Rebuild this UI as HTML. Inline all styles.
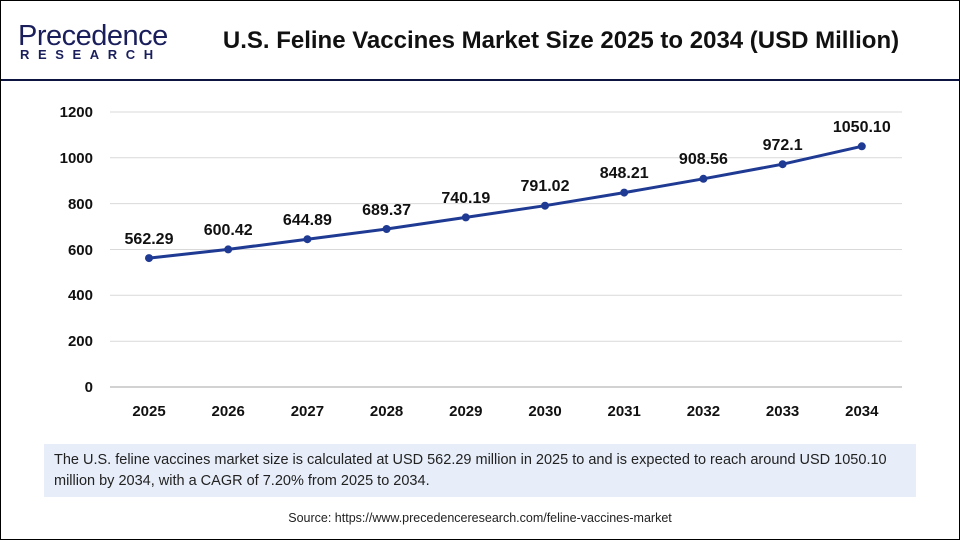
<!DOCTYPE html>
<html><head><style>
body{margin:0;width:960px;height:540px;overflow:hidden;background:#fff;font-family:"Liberation Sans",Arial,sans-serif}
.frame{position:absolute;left:0;top:0;width:958px;height:538px;border:1px solid #000}
.hr{position:absolute;left:1px;top:79px;width:958px;height:2px;background:#0d1440}
.title{position:absolute;left:150px;top:27px;width:822px;text-align:center;font-size:24px;font-weight:bold;color:#111;letter-spacing:0px}
.logo1{position:absolute;left:18px;top:20px;font-size:29px;color:#1a1f5c;letter-spacing:-0.5px}
.logo2{position:absolute;left:20px;top:47px;font-size:13px;color:#1a1f5c;letter-spacing:8.6px;font-weight:bold}
.box{position:absolute;left:44px;top:444px;width:872px;height:53px;background:#e7eef9}
.box p{margin:6px 0 0 10px;width:840px;font-size:14.5px;line-height:21px;color:#222}
.src{position:absolute;left:0;width:960px;top:511px;text-align:center;font-size:12.5px;color:#222}
</style></head><body>
<div class="frame"></div>
<div class="logo1">Precedence</div>
<div class="logo2">RESEARCH</div>
<div class="hr"></div>
<div class="title">U.S. Feline Vaccines Market Size 2025 to 2034 (USD Million)</div>
<svg width="960" height="540" style="position:absolute;left:0;top:0" font-family="Liberation Sans, Arial, sans-serif">
<g stroke="#d9d9d9" stroke-width="1">
<line x1="110" x2="902" y1="112" y2="112"/><line x1="110" x2="902" y1="157.8" y2="157.8"/>
<line x1="110" x2="902" y1="203.6" y2="203.6"/><line x1="110" x2="902" y1="249.5" y2="249.5"/>
<line x1="110" x2="902" y1="295.3" y2="295.3"/><line x1="110" x2="902" y1="341.2" y2="341.2"/>
</g>
<line x1="110" x2="902" y1="387" y2="387" stroke="#a6a6a6"/>
<g font-size="15" font-weight="bold" fill="#111" text-anchor="end">
<text x="93" y="117">1200</text><text x="93" y="163">1000</text><text x="93" y="209">800</text>
<text x="93" y="255">600</text><text x="93" y="300">400</text><text x="93" y="346">200</text><text x="93" y="392">0</text>
</g>
<g font-size="15" font-weight="bold" fill="#111" text-anchor="middle">
<text x="149" y="416">2025</text><text x="228.2" y="416">2026</text><text x="307.4" y="416">2027</text>
<text x="386.6" y="416">2028</text><text x="465.8" y="416">2029</text><text x="545" y="416">2030</text>
<text x="624.2" y="416">2031</text><text x="703.4" y="416">2032</text><text x="782.6" y="416">2033</text><text x="861.8" y="416">2034</text>
</g>
<polyline fill="none" stroke="#1f3a93" stroke-width="3" points="149,258.1 228.2,249.4 307.4,239.2 386.6,229 465.8,217.4 545,205.7 624.2,192.6 703.4,178.8 782.6,164.2 861.8,146.3"/>
<g fill="#1f3a93">
<circle cx="149" cy="258.1" r="4"/><circle cx="228.2" cy="249.4" r="4"/><circle cx="307.4" cy="239.2" r="4"/>
<circle cx="386.6" cy="229" r="4"/><circle cx="465.8" cy="217.4" r="4"/><circle cx="545" cy="205.7" r="4"/>
<circle cx="624.2" cy="192.6" r="4"/><circle cx="703.4" cy="178.8" r="4"/><circle cx="782.6" cy="164.2" r="4"/><circle cx="861.8" cy="146.3" r="4"/>
</g>
<g font-size="16" font-weight="bold" fill="#111" text-anchor="middle">
<text x="149" y="244">562.29</text><text x="228.2" y="235">600.42</text><text x="307.4" y="225">644.89</text>
<text x="386.6" y="215">689.37</text><text x="465.8" y="203">740.19</text><text x="545" y="191">791.02</text>
<text x="624.2" y="178">848.21</text><text x="703.4" y="164">908.56</text><text x="782.6" y="150">972.1</text><text x="861.8" y="132">1050.10</text>
</g>
</svg>
<div class="box"><p>The U.S. feline vaccines market size is calculated at USD 562.29 million in 2025 to and is expected to reach around USD 1050.10 million by 2034, with a CAGR of 7.20% from 2025 to 2034.</p></div>
<div class="src">Source: https://www.precedenceresearch.com/feline-vaccines-market</div>
</body></html>
